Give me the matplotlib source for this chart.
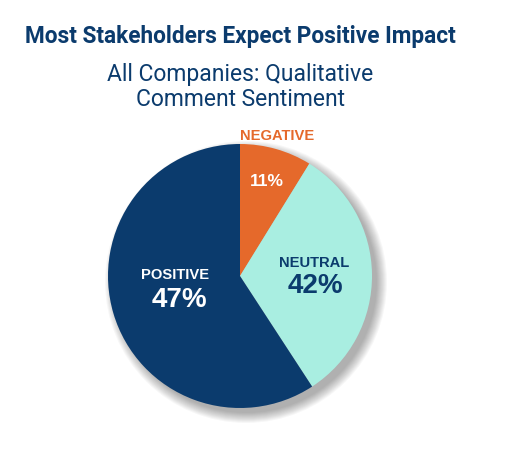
import matplotlib
matplotlib.use("Agg")
import matplotlib.pyplot as plt
from matplotlib.patches import Circle

# Data
categories = ["NEGATIVE", "NEUTRAL", "POSITIVE"]
pct_labels = ["11%", "42%", "47%"]
slice_sizes = [8.8, 32.0, 59.2]   # wedge extents as drawn in the reference
colors = ["#e5692b", "#a9eee1", "#0b3b6d"]

NAVY = "#0b3b6d"
W, H = 505, 466
fig = plt.figure(figsize=(W / 100, H / 100), dpi=100)
ax = fig.add_axes([0, 0, 1, 1])
ax.set_xlim(0, W)
ax.set_ylim(0, H)
ax.set_aspect("equal")
ax.axis("off")

cx, cy, r = 240, H - 276, 132

# soft shadow
for k in range(11):
    ax.add_patch(Circle((cx + 6, cy - 6), r + 9 - k, color="#000000",
                        alpha=0.03, lw=0, zorder=1))

ax.pie(slice_sizes, colors=colors, startangle=90, counterclock=False,
       center=(cx, cy), radius=r, frame=True,
       wedgeprops=dict(linewidth=0, zorder=2))
ax.set_xlim(0, W)
ax.set_ylim(0, H)
ax.axis("off")

fam = ["Roboto", "DejaVu Sans"]
fig.text(25 / W, 1 - 37 / H, "Most Stakeholders Expect Positive Impact",
         fontsize=16.3, fontweight="bold", color=NAVY, family=fam,
         ha="left", va="center")
fig.text(240 / W, 1 - 74 / H, "All Companies: Qualitative", fontsize=16.5,
         color=NAVY, family=fam, ha="center", va="center")
fig.text(240 / W, 1 - 100 / H, "Comment Sentiment", fontsize=16.5,
         color=NAVY, family=fam, ha="center", va="center")

lab = ["Liberation Sans", "DejaVu Sans"]
ax.text(277, H - 136, categories[0], fontsize=10.6, fontweight="bold",
        color=colors[0], family=lab, ha="center", va="center", zorder=5)
ax.text(267, H - 181, pct_labels[0], fontsize=12.5, fontweight="bold",
        color="white", family=lab, ha="center", va="center", zorder=5)
ax.text(314, H - 263, categories[1], fontsize=10.6, fontweight="bold",
        color=NAVY, family=lab, ha="center", va="center", zorder=5)
ax.text(315, H - 286, pct_labels[1], fontsize=20, fontweight="bold",
        color=NAVY, family=lab, ha="center", va="center", zorder=5)
ax.text(175, H - 275, categories[2], fontsize=10.6, fontweight="bold",
        color="white", family=lab, ha="center", va="center", zorder=5)
ax.text(179, H - 300, pct_labels[2], fontsize=20, fontweight="bold",
        color="white", family=lab, ha="center", va="center", zorder=5)

fig.savefig("out.png", dpi=100, facecolor="white")
